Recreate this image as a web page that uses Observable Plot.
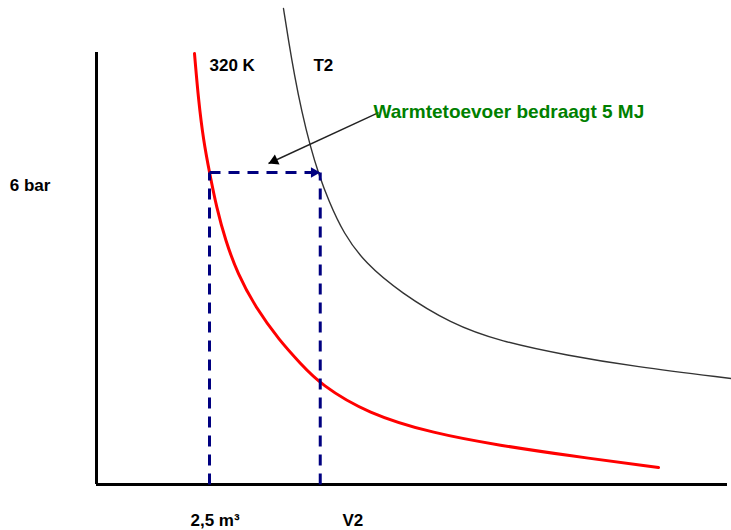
<!DOCTYPE html>
<html>
<head>
<meta charset="utf-8">
<script src="https://cdn.jsdelivr.net/npm/d3@7"></script>
<script src="https://cdn.jsdelivr.net/npm/@observablehq/plot@0.6"></script>
<style>
  html, body { margin: 0; padding: 0; background: #fff; }
  svg { font-family: "Liberation Sans", Arial, sans-serif; }
</style>
</head>
<body>
<div id="chart"></div>
<script>
// Isotherm 320 K (red) — volume in m³, pressure in bar
const redV = [2.168, 2.257, 2.367, 2.50, 2.655, 2.854, 3.119, 3.518, 4.049, 4.513, 4.956, 5.996, 7.456, 8.938, 10.42, 12.434];
const redP = [8.288, 7.385, 6.615, 6.00, 5.327, 4.692, 4.058, 3.404, 2.769, 2.327, 1.923, 1.365, 0.981, 0.75, 0.558, 0.327];
// Isotherm T2 (black)
const blackV = [4.137, 4.248, 4.381, 4.535, 4.735, 4.912, 5.133, 5.465, 5.951, 6.726, 7.832, 8.938, 10.42, 11.881, 14.049];
const blackP = [9.154, 8.538, 7.865, 7.192, 6.481, 5.981, 5.462, 4.827, 4.25, 3.692, 3.096, 2.75, 2.481, 2.269, 2.038];
// Process: isobaric expansion at 6 bar from 2.5 m³ to V2
const V1 = 2.5, V2 = 4.95, P1 = 6;
// Annotation arrow (from text toward the process line)
const noteFrom = [6.24, 7.15];
const noteTo = [3.805, 6.173];
const noteText = "Warmtetoevoer bedraagt 5 MJ";
const notePos = [6.13, 7.04];
// Labels
const labelText = ["320 K", "T2", "6 bar", "2,5 m³", "V2"];
const labelV = [2.50, 4.80, -1.92, 2.08, 5.44];
const labelP = [7.96, 7.96, 5.65, -0.79, -0.79];
// Axis extents
const axisTopP = 8.31, axisRightV = 13.96;

const W = 731, H = 530;
const mL = 96, mB = 46;
const kx = 45.2, ky = 52; // px per unit

const red = redV.map((v, i) => ({V: v, p: redP[i]}));
const black = blackV.map((v, i) => ({V: v, p: blackP[i]}));
const labels = labelText.map((t, i) => ({t, V: labelV[i], p: labelP[i]}));
const dashed = [
  {x1: V1, y1: 0, x2: V1, y2: P1},
  {x1: V1, y1: P1, x2: V2, y2: P1},
  {x1: V2, y1: 0, x2: V2, y2: P1}
];

const ang = Math.atan2(-(noteTo[1] - noteFrom[1]) * ky, (noteTo[0] - noteFrom[0]) * kx);
const angDeg = ang * 180 / Math.PI;
const hb = 3.2; // black head half unit
const hn = 3.1; // navy head half unit
const symR = h => Math.sqrt(h * h * 3 * Math.sqrt(3) / Math.PI);

const plot = Plot.plot({
  width: W, height: H,
  marginLeft: mL, marginRight: 0, marginTop: 0, marginBottom: mB,
  x: {domain: [0, (W - mL) / kx], axis: null},
  y: {domain: [0, (H - mB) / ky], axis: null},
  style: {background: "#fff", overflow: "visible"},
  marks: [
    Plot.ruleX([0], {y1: 0, y2: axisTopP, stroke: "#000", strokeWidth: 3}),
    Plot.ruleY([0], {x1: 0, x2: axisRightV, stroke: "#000", strokeWidth: 3}),
    Plot.line(black, {x: "V", y: "p", stroke: "#333", strokeWidth: 1.4, curve: "basis"}),
    Plot.line(red, {x: "V", y: "p", stroke: "#ff0000", strokeWidth: 3, curve: "basis"}),
    Plot.link(dashed, {x1: "x1", y1: "y1", x2: "x2", y2: "y2", stroke: "#000080", strokeWidth: 3, strokeDasharray: "11,8"}),
    Plot.dot([{V: V2, p: P1}], {x: "V", y: "p", symbol: "triangle", r: symR(hn), rotate: 90, fill: "#000080", stroke: "none", dx: -2 * hn}),
    Plot.link([{x1: noteFrom[0], y1: noteFrom[1], x2: noteTo[0], y2: noteTo[1]}], {x1: "x1", y1: "y1", x2: "x2", y2: "y2", stroke: "#222", strokeWidth: 1.4}),
    Plot.dot([{V: noteTo[0], p: noteTo[1]}], {x: "V", y: "p", symbol: "triangle", r: symR(hb), rotate: angDeg + 90, fill: "#000", stroke: "none", dx: -2 * hb * Math.cos(ang), dy: -2 * hb * Math.sin(ang)}),
    Plot.text(labels, {x: "V", y: "p", text: "t", textAnchor: "start", lineAnchor: "bottom", fontSize: 17, fontWeight: "bold", fill: "#000"}),
    Plot.text([{V: notePos[0], p: notePos[1]}], {x: "V", y: "p", text: () => noteText, textAnchor: "start", lineAnchor: "bottom", fontSize: 19, fontWeight: "bold", fill: "#008000"})
  ]
});
document.getElementById("chart").appendChild(plot);
</script>
</body>
</html>
